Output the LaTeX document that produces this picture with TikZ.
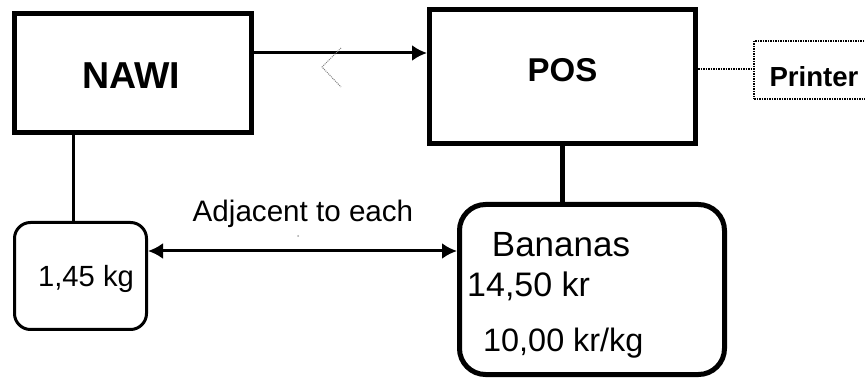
\documentclass[tikz,border=0pt]{standalone}
\usepackage{fontspec}
\setmainfont{Liberation Sans}
\usetikzlibrary{arrows.meta}
\newcommand{\fsz}[1]{\fontsize{#1}{#1}\selectfont}
\begin{document}
\begin{tikzpicture}[x=1pt,y=-1pt,
  bigbox/.style={draw, line width=5pt, rectangle, inner sep=0pt},
  roundbox/.style={draw, rectangle, inner sep=0pt},
  lbl/.style={inner sep=0pt, anchor=base},
  lblw/.style={inner sep=0pt, anchor=base west},
  conn/.style={line width=3pt},
  tip/.style={-{Latex[length=15pt,width=16pt]}},
]
\useasboundingbox (0,0) rectangle (865,379);
\clip (0,0) rectangle (865,379);
\fill[white] (0,0) rectangle (865,379);

% boxes
\node[bigbox, minimum width=237pt, minimum height=119pt] (nawi) at (132.5,73.5) {};
\node[bigbox, minimum width=266pt, minimum height=134pt] (pos) at (562.5,76.5) {};
\node[draw, densely dotted, line width=1.5pt, rectangle, inner sep=0pt,
      minimum width=116pt, minimum height=58pt] (printer) at (812,70) {};
\node[roundbox, line width=3pt, rounded corners=16pt,
      minimum width=132pt, minimum height=107pt] (kg) at (80.5,276) {};
\node[roundbox, line width=5pt, rounded corners=26pt,
      minimum width=265pt, minimum height=170pt] (ban) at (592,289.5) {};

% texts
\node[lbl, font=\bfseries\fsz{37.5}] (nawit) at (131,88.5) {NAWI};
\node[lbl, font=\bfseries\fsz{33}] (post) at (562.5,82) {POS};
\node[lbl, font=\bfseries\fsz{27.6}] (printert) at (814,87) {Printer};
\node[lbl, font=\fsz{29.6}] (adj) at (303,222) {Adjacent to each};
\node[lbl, font=\fsz{29.2}] (kgt) at (86,287) {1,45 kg};
\node[lbl, font=\fsz{35}] (bant) at (561,257) {Bananas};
\node[lblw, font=\fsz{34}] (pricet) at (467,297) {14,50 kr};
\node[lblw, font=\fsz{32.4}] (unitt) at (483,352) {10,00 kr/kg};

% connectors
\draw[conn, tip] (nawi.east |- 0,53) -- (pos.west |- 0,53);
\draw[conn] (nawi.south -| 73,0) -- (kg.north -| 73,0);
\draw[line width=5pt] (pos.south) -- (pos.south |- ban.north);
\draw[densely dotted, line width=1.5pt] (pos.east |- 0,69) -- (printer.west |- 0,69);
\draw[conn, {Latex[length=15pt,width=16pt]}-{Latex[length=15pt,width=16pt]}]
  (kg.east |- 0,251) -- (ban.west |- 0,251);

% stray marks
\draw[gray, densely dotted, line width=1pt] (341,48) -- (322,67) -- (341,87);
\fill[gray!70] (298,236) circle (1pt);
\end{tikzpicture}
\end{document}
